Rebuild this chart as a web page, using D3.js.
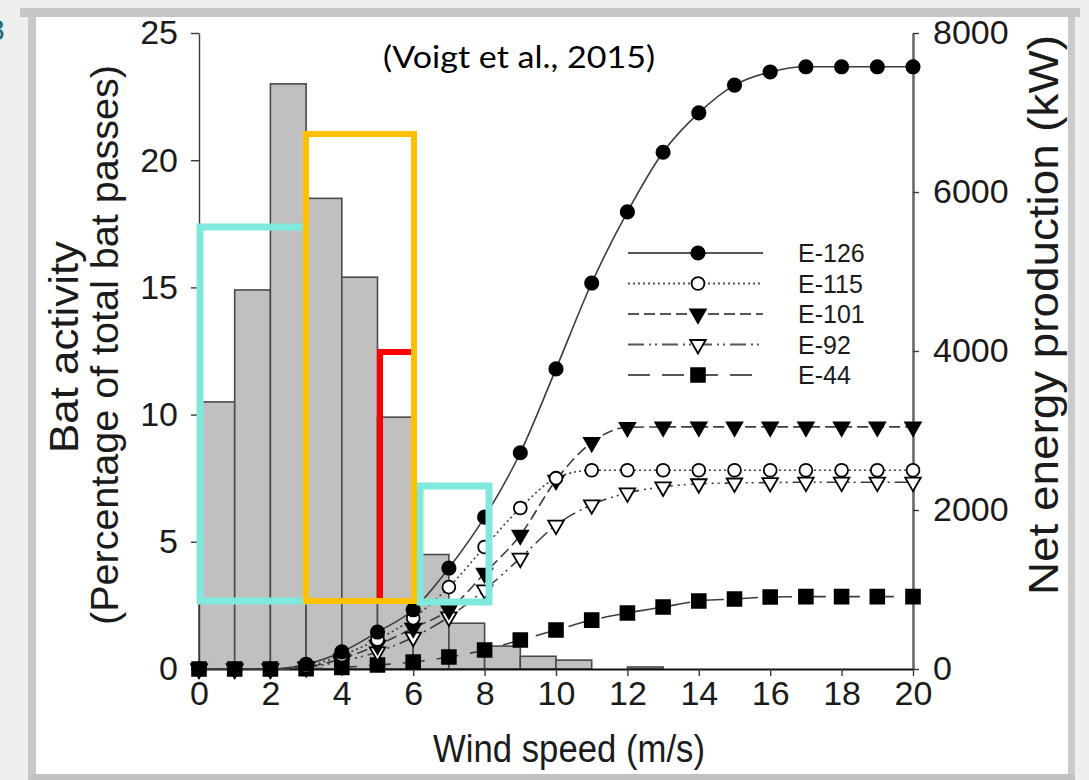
<!DOCTYPE html>
<html>
<head>
<meta charset="utf-8">
<script src="https://cdn.jsdelivr.net/npm/d3@7"></script>
<style>
  body { margin: 0; background: #efefef; }
  svg { display: block; }
</style>
</head>
<body>
<svg id="chart" width="1089" height="780"></svg>
<script>
// wind speed classes (m/s)
var windSpeed = [0,1,2,3,4,5,6,7,8,9,10,11,12,13,14,15,16,17,18,19,20];
// bat activity per 1 m/s class, % of total bat passes (bar i spans i..i+1)
var batActivity = [10.5, 14.9, 23.0, 18.5, 15.4, 9.9, 4.5, 1.8, 0.9, 0.5, 0.35, 0, 0.08];

// net energy production (kW) per turbine type
var e126 = [0,0,0,60,215,465,745,1270,1910,2720,3775,4855,5750,6500,6995,7345,7510,7575,7575,7575,7575];
var e115 = [0,0,0,35,175,370,640,1030,1535,2025,2400,2500,2500,2500,2500,2500,2500,2500,2500,2500,2500];
var e101 = [0,0,0,25,130,300,515,745,1205,1685,2375,2850,3040,3045,3045,3045,3045,3045,3045,3045,3045];
var e92  = [0,0,0,20,100,215,400,655,995,1395,1810,2065,2215,2290,2330,2340,2345,2350,2350,2350,2350];
var e44  = [0,0,0,4,20,50,88,150,240,365,490,615,705,780,855,880,905,910,910,910,910];

var seriesNames = ["E-126", "E-115", "E-101", "E-92", "E-44"];

var leftTicks = [0,5,10,15,20,25];
var rightTicks = [0,2000,4000,6000,8000];
var bottomTicks = [0,2,4,6,8,10,12,14,16,18,20];

var svg = d3.select("#chart");
var W = 1089, H = 780;

// slide frame
svg.append("rect").attr("width", W).attr("height", H).attr("fill", "#efefef");
svg.append("rect").attr("x", 20).attr("y", 8).attr("width", 1060).attr("height", 9).attr("fill", "#c6c6c6");
svg.append("rect").attr("x", 28).attr("y", 17).attr("width", 8).attr("height", 763).attr("fill", "#c8c8c8");
svg.append("rect").attr("x", 1068).attr("y", 17).attr("width", 7).attr("height", 758).attr("fill", "#cbcbcb");
svg.append("rect").attr("x", 28).attr("y", 774).attr("width", 1047).attr("height", 6).attr("fill", "#c2c2c2");
svg.append("rect").attr("x", 36).attr("y", 17).attr("width", 1032).attr("height", 757).attr("fill", "#ffffff");
svg.append("text").attr("x", -12).attr("y", 40)
   .style("font-family", "Liberation Sans").style("font-size", "30px")
   .attr("fill", "#1e6b74").text("3");

var x0 = 199, x1 = 913, yTop = 33, yBase = 669;

var x = d3.scaleLinear().domain([0, 20]).range([x0, x1]);
var yL = d3.scaleLinear().domain([0, 25]).range([yBase, yTop]);
var yR = d3.scaleLinear().domain([0, 8000]).range([yBase, yTop]);

var tickFont = "Liberation Sans, Arial, sans-serif";

// bars
svg.append("g").selectAll("rect")
   .data(batActivity.map(function(v, i) { return {i: i, v: v}; }).filter(function(d) { return d.v > 0; }))
   .enter()
   .append("rect")
   .attr("x", function(d) { return x(d.i); })
   .attr("width", function(d) { return x(d.i + 1) - x(d.i); })
   .attr("y", function(d) { return yL(d.v); })
   .attr("height", function(d) { return yBase - yL(d.v); })
   .attr("fill", "#c0c0c0")
   .attr("stroke", "#4a4a4a")
   .attr("stroke-width", 1.6);

// axes
function styleAxis(g) {
  g.selectAll("path").attr("stroke", "#3a3a3a");
  g.selectAll("line").attr("stroke", "#3a3a3a").attr("stroke-width", 1.4);
  g.selectAll("text").style("font-family", tickFont).style("font-size", "34px").attr("fill", "#1b1b1b");
}

var gL = svg.append("g").attr("transform", "translate(" + x0 + ",0)")
   .call(d3.axisLeft(yL).tickValues(leftTicks).tickSize(8).tickSizeOuter(0).tickPadding(13));
styleAxis(gL);
gL.select("path").attr("stroke-width", 1.4);

var gR = svg.append("g").attr("transform", "translate(" + x1 + ",0)")
   .call(d3.axisRight(yR).tickValues(rightTicks).tickFormat(d3.format("d")).tickSize(6).tickSizeOuter(0).tickPadding(14));
styleAxis(gR);
gR.select("path").attr("stroke", "#6a6a6a").attr("stroke-width", 2.6);

var gB = svg.append("g").attr("transform", "translate(0," + yBase + ")")
   .call(d3.axisBottom(x).tickValues(bottomTicks).tickFormat(d3.format("d")).tickSize(7).tickSizeOuter(0).tickPadding(5));
styleAxis(gB);
gB.select("path").attr("stroke", "#111").attr("stroke-width", 2.2);

// curves
var series = [
  {name: seriesNames[0], values: e126, dash: null,            symbol: d3.symbolCircle,   size: 140, fill: "#000", rot: 0},
  {name: seriesNames[1], values: e115, dash: "2,3",           symbol: d3.symbolCircle,   size: 130, fill: "#fff", rot: 0},
  {name: seriesNames[2], values: e101, dash: "11,5",          symbol: d3.symbolTriangle, size: 105, fill: "#000", rot: 180},
  {name: seriesNames[3], values: e92,  dash: "16,5,2,4,2,5",  symbol: d3.symbolTriangle, size: 105, fill: "#fff", rot: 180},
  {name: seriesNames[4], values: e44,  dash: "22,12",         symbol: d3.symbolSquare,   size: 190, fill: "#000", rot: 0}
];

var line = d3.line()
   .x(function(d, i) { return x(windSpeed[i]); })
   .y(function(d) { return yR(d); })
   .curve(d3.curveMonotoneX);

series.forEach(function(s) {
  svg.append("path")
     .attr("d", line(s.values))
     .attr("fill", "none")
     .attr("stroke", "#3c3c3c")
     .attr("stroke-width", 1.6)
     .attr("stroke-dasharray", s.dash);
});

series.slice().reverse().forEach(function(s) {
  svg.append("g").selectAll("path")
     .data(s.values)
     .enter()
     .append("path")
     .attr("d", d3.symbol().type(s.symbol).size(s.size))
     .attr("transform", function(d, i) {
        return "translate(" + x(windSpeed[i]) + "," + yR(d) + ") rotate(" + s.rot + ")";
     })
     .attr("fill", s.fill)
     .attr("stroke", "#000")
     .attr("stroke-width", 1.8);
});

// legend
var lg = svg.append("g");
series.forEach(function(s, i) {
  var ly = 253 + i * 30.5;
  lg.append("line").attr("x1", 628).attr("x2", 763).attr("y1", ly).attr("y2", ly)
    .attr("stroke", "#555").attr("stroke-width", 2.2).attr("stroke-dasharray", s.dash);
  lg.append("path").attr("d", d3.symbol().type(s.symbol).size(s.size))
    .attr("transform", "translate(698," + ly + ") rotate(" + s.rot + ")")
    .attr("fill", s.fill).attr("stroke", "#000").attr("stroke-width", 1.8);
  lg.append("text").attr("x", 798).attr("y", ly + 9)
    .style("font-family", tickFont).style("font-size", "25px").attr("fill", "#1b1b1b")
    .text(s.name);
});

// titles
svg.append("text").attr("x", 569).attr("y", 762).attr("text-anchor", "middle")
   .style("font-family", tickFont).style("font-size", "38px").attr("fill", "#1b1b1b")
   .attr("textLength", 272).attr("lengthAdjust", "spacingAndGlyphs")
   .text("Wind speed (m/s)");

svg.append("text").attr("transform", "translate(78,347) rotate(-90)").attr("text-anchor", "middle")
   .style("font-family", tickFont).style("font-size", "40px").attr("fill", "#1b1b1b")
   .attr("textLength", 212).attr("lengthAdjust", "spacingAndGlyphs")
   .text("Bat activity");

svg.append("text").attr("transform", "translate(118,345) rotate(-90)").attr("text-anchor", "middle")
   .style("font-family", tickFont).style("font-size", "39px").attr("fill", "#1b1b1b")
   .attr("textLength", 560).attr("lengthAdjust", "spacingAndGlyphs")
   .text("(Percentage of total bat passes)");

svg.append("text").attr("transform", "translate(1058,315) rotate(-90)").attr("text-anchor", "middle")
   .style("font-family", tickFont).style("font-size", "43px").attr("fill", "#1b1b1b")
   .attr("textLength", 560).attr("lengthAdjust", "spacingAndGlyphs")
   .text("Net energy production (kW)");

svg.append("text").attr("x", 519).attr("y", 68).attr("text-anchor", "middle")
   .style("font-family", "Lato, sans-serif").style("font-size", "30px").attr("fill", "#000")
   .attr("textLength", 272).attr("lengthAdjust", "spacingAndGlyphs")
   .text("(Voigt et al., 2015)");

// highlight boxes drawn over the chart
var teal = "#7fe9de";
svg.append("rect").attr("x", 200).attr("y", 227).attr("width", 106).attr("height", 374)
   .attr("fill", "none").attr("stroke", teal).attr("stroke-width", 7);
svg.append("rect").attr("x", 420).attr("y", 486).attr("width", 69).attr("height", 116)
   .attr("fill", "none").attr("stroke", teal).attr("stroke-width", 7);
svg.append("path").attr("d", "M380,601V352H413")
   .attr("fill", "none").attr("stroke", "#ff0000").attr("stroke-width", 6);
svg.append("rect").attr("x", 306).attr("y", 134).attr("width", 108).attr("height", 467)
   .attr("fill", "none").attr("stroke", "#ffc000").attr("stroke-width", 6);
</script>
</body>
</html>
